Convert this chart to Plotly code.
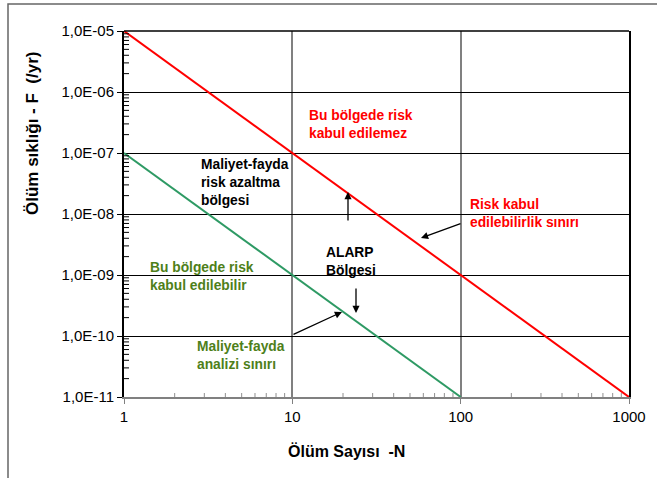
import math
import plotly.graph_objects as go

# Data
red_N = [1, 1000]
red_F = [1e-5, 1e-11]
green_N = [1, 100]
green_F = [1e-7, 1e-11]

y_tickvals = [1e-11, 1e-10, 1e-9, 1e-8, 1e-7, 1e-6, 1e-5]
y_ticktext = ["1,0E-11", "1,0E-10", "1,0E-09", "1,0E-08", "1,0E-07", "1,0E-06", "1,0E-05"]
x_tickvals = [1, 10, 100, 1000]
x_ticktext = ["1", "10", "100", "1000"]

y_minor = [m * d for d in y_tickvals[:-1] for m in range(2, 10)]
x_minor = [m * d for d in x_tickvals[:-1] for m in range(2, 10)]

X_RANGE = [0, 3]
Y_RANGE = [-11, -5]

W, H = 657, 478
L, R, T, B = 124, 28, 31, 81
pw, ph = W - L - R, H - T - B

def px(x):
    return (x - L) / pw

def py(y):
    return (H - B - y) / ph

FONT = "Liberation Sans, Arial, sans-serif"
RED = "#FF0000"
GREEN_TXT = "#4E7F1A"
GREEN_LINE = "#2E9A64"

fig = go.Figure()
fig.add_trace(go.Scatter(x=red_N, y=red_F, mode="lines",
                         line=dict(color=RED, width=2), showlegend=False, hoverinfo="skip"))
fig.add_trace(go.Scatter(x=green_N, y=green_F, mode="lines",
                         line=dict(color=GREEN_LINE, width=2), showlegend=False, hoverinfo="skip"))

fig.update_layout(
    width=W, height=H,
    margin=dict(l=L, r=R, t=T, b=B),
    paper_bgcolor="white", plot_bgcolor="white",
    font=dict(family=FONT, size=15, color="black"),
    xaxis=dict(type="log", range=X_RANGE, tickvals=x_tickvals, ticktext=x_ticktext,
               showgrid=True, gridcolor="#808080", gridwidth=1.5,
               showline=True, linecolor="#808080", linewidth=2,
               ticks="outside", ticklen=5, tickcolor="#808080",
               tickfont=dict(size=15, family=FONT), zeroline=False),
    yaxis=dict(type="log", range=Y_RANGE, tickvals=y_tickvals, ticktext=y_ticktext,
               showgrid=True, gridcolor="black", gridwidth=1,
               showline=True, linecolor="black", linewidth=2, mirror=True,
               ticks="outside", ticklen=5, tickcolor="black",
               tickfont=dict(size=15, family=FONT), zeroline=False),
)

shapes = [
    dict(type="line", xref="paper", yref="paper", x0=0, x1=1, y0=1, y1=1,
         line=dict(color="black", width=1.5)),
    dict(type="rect", xref="paper", yref="paper", x0=px(8), x1=px(665), y0=py(495), y1=py(4),
         line=dict(color="#666666", width=1.5), fillcolor="rgba(0,0,0,0)", layer="below"),
]
# minor tick marks (inside)
for v in y_minor:
    f = (math.log10(v) - Y_RANGE[0]) / (Y_RANGE[1] - Y_RANGE[0])
    shapes.append(dict(type="line", xref="paper", yref="paper", x0=0, x1=5 / pw, y0=f, y1=f,
                       line=dict(color="black", width=1)))
for v in x_minor:
    f = (math.log10(v) - X_RANGE[0]) / (X_RANGE[1] - X_RANGE[0])
    shapes.append(dict(type="line", xref="paper", yref="paper", x0=f, x1=f, y0=0, y1=4 / ph,
                       line=dict(color="#909090", width=1)))
fig.update_layout(shapes=shapes)

NB = "\u00a0"
ann = []
# axis titles
ann.append(dict(text="<b>Ölüm sıklığı" + NB + "-" + NB + "F" + NB * 2 + "(/yr)</b>",
                xref="paper", yref="paper",
                x=px(32), y=py(134), textangle=-90, showarrow=False,
                font=dict(size=17, color="black", family=FONT), xanchor="center", yanchor="middle"))
ann.append(dict(text="<b>Ölüm Sayısı" + NB + " -N</b>", xref="paper", yref="paper",
                x=px(346), y=py(451), showarrow=False,
                font=dict(size=16, color="black", family=FONT), xanchor="center", yanchor="middle"))

def text(t, x, ymid, color):
    ann.append(dict(text=t, xref="paper", yref="paper", x=px(x), y=py(ymid),
                    showarrow=False, align="left", xanchor="left", yanchor="middle",
                    font=dict(size=13.8, color=color, family=FONT)))

text("<b>Bu bölgede risk<br>kabul edilemez</b>", 307, 124.5, RED)
text("<b>Risk kabul<br>edilebilirlik sınırı</b>", 468, 213.5, RED)
text("<b>ALARP<br>Bölgesi</b>", 324, 261, "black")
text("<b>Maliyet-fayda<br>risk azaltma<br>bölgesi</b>", 199, 182.5, "black")
text("<b>Bu bölgede risk<br>kabul edilebilir</b>", 148, 276.5, GREEN_TXT)
text("<b>Maliyet-fayda<br>analizi sınırı</b>", 195, 355, GREEN_TXT)

def arrow(hx, hy, tx, ty):
    ann.append(dict(text="", xref="paper", yref="paper", x=px(hx), y=py(hy),
                    axref="pixel", ayref="pixel", ax=tx - hx, ay=ty - hy,
                    showarrow=True, arrowhead=2, arrowsize=1.1, arrowwidth=1.3,
                    arrowcolor="black", standoff=0, startstandoff=0))

arrow(348, 192, 348, 222)
arrow(356, 313, 356, 287)
arrow(421, 238, 462, 223)
arrow(342, 312, 292, 335)

fig.update_layout(annotations=ann)
fig.write_html("out.html", config={"displayModeBar": False},
               post_script="document.body.style.margin='0';")
